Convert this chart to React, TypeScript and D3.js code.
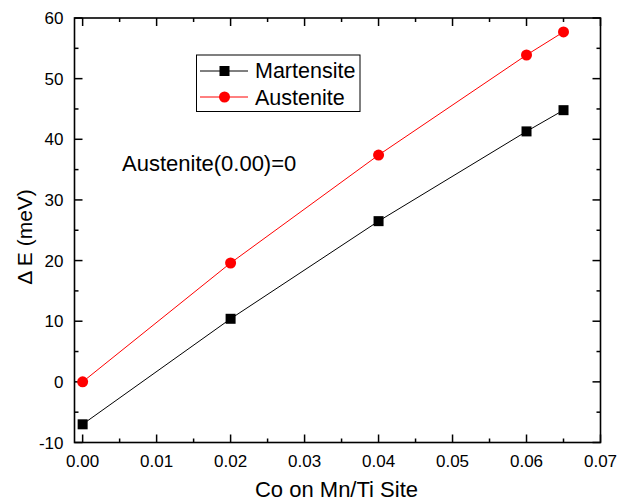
import React from "react";
import * as d3 from "d3";

const coContent = [0.0, 0.02, 0.04, 0.06, 0.065];
const martensite = [-7.0, 10.4, 26.5, 41.3, 44.8];
const austenite = [0.0, 19.6, 37.4, 53.9, 57.7];
const xTicks = [0.0, 0.01, 0.02, 0.03, 0.04, 0.05, 0.06, 0.07];
const yTicks = [-10, 0, 10, 20, 30, 40, 50, 60];

const W = 619;
const H = 504;
const left = 74.5;
const right = 600.5;
const top = 18;
const bottom = 442.5;
const font = "'Liberation Sans', Arial, sans-serif";

export default function App() {
  const x = d3.scaleLinear().domain([-0.0011, 0.07]).range([left, right]);
  const y = d3.scaleLinear().domain([-10, 60]).range([bottom, top]);
  const line = d3
    .line<[number, number]>()
    .x((d) => x(d[0]))
    .y((d) => y(d[1]));
  const mPts = coContent.map((c, i) => [c, martensite[i]] as [number, number]);
  const aPts = coContent.map((c, i) => [c, austenite[i]] as [number, number]);

  const xMinor = d3.range(0, 0.0701, 0.005);
  const yMinor = d3.range(-10, 60.01, 5);
  const majorLen = 8;
  const minorLen = 4;

  return (
    <svg width={W} height={H} style={{ position: "absolute", left: 0, top: 0 }} fontFamily={font}>
      <rect width={W} height={H} fill="#fff" />
      {/* inward ticks on all four sides */}
      {xMinor.map((v, i) => {
        const len = i % 2 === 0 ? majorLen : minorLen;
        return (
          <g key={"xt" + i} stroke="#000" strokeWidth={1.5}>
            <line x1={x(v)} x2={x(v)} y1={bottom} y2={bottom - len} />
            <line x1={x(v)} x2={x(v)} y1={top} y2={top + len} />
          </g>
        );
      })}
      {yMinor.map((v, i) => {
        const len = i % 2 === 0 ? majorLen : minorLen;
        return (
          <g key={"yt" + i} stroke="#000" strokeWidth={1.5}>
            <line x1={left} x2={left + len} y1={y(v)} y2={y(v)} />
            <line x1={right} x2={right - len} y1={y(v)} y2={y(v)} />
          </g>
        );
      })}
      <rect x={left} y={top} width={right - left} height={bottom - top} fill="none" stroke="#000" strokeWidth={1.6} />
      {xTicks.map((v) => (
        <text key={"xl" + v} x={x(v)} y={bottom + 24} textAnchor="middle" fontSize={17}>
          {v.toFixed(2)}
        </text>
      ))}
      {yTicks.map((v) => (
        <text key={"yl" + v} x={left - 11} y={y(v) + 6} textAnchor="end" fontSize={17}>
          {v}
        </text>
      ))}
      <text x={336.5} y={497} textAnchor="middle" fontSize={22}>
        Co on Mn/Ti Site
      </text>
      <text transform={`translate(32,237) rotate(-90)`} textAnchor="middle" fontSize={21}>
        Δ E (meV)
      </text>

      <path d={line(mPts) ?? ""} fill="none" stroke="#000" strokeWidth={1} />
      <path d={line(aPts) ?? ""} fill="none" stroke="#ff0000" strokeWidth={1} />
      {mPts.map((p, i) => (
        <rect key={"m" + i} x={x(p[0]) - 5} y={y(p[1]) - 5} width={10} height={10} fill="#000" />
      ))}
      {aPts.map((p, i) => (
        <circle key={"a" + i} cx={x(p[0])} cy={y(p[1])} r={5.5} fill="#ff0000" />
      ))}

      {/* legend */}
      <rect x={196.5} y={55} width={163.5} height={56.5} fill="#fff" stroke="#000" strokeWidth={1} />
      <line x1={200} x2={248} y1={71} y2={71} stroke="#000" strokeWidth={1} />
      <rect x={219.5} y={66} width={10} height={10} fill="#000" />
      <text x={255} y={77.5} fontSize={21.5}>Martensite</text>
      <line x1={200} x2={248} y1={97} y2={97} stroke="#ff0000" strokeWidth={1} />
      <circle cx={224.5} cy={97} r={5.5} fill="#ff0000" />
      <text x={255} y={104.5} fontSize={21.5}>Austenite</text>

      <text x={122} y={170.5} fontSize={22}>Austenite(0.00)=0</text>
    </svg>
  );
}
